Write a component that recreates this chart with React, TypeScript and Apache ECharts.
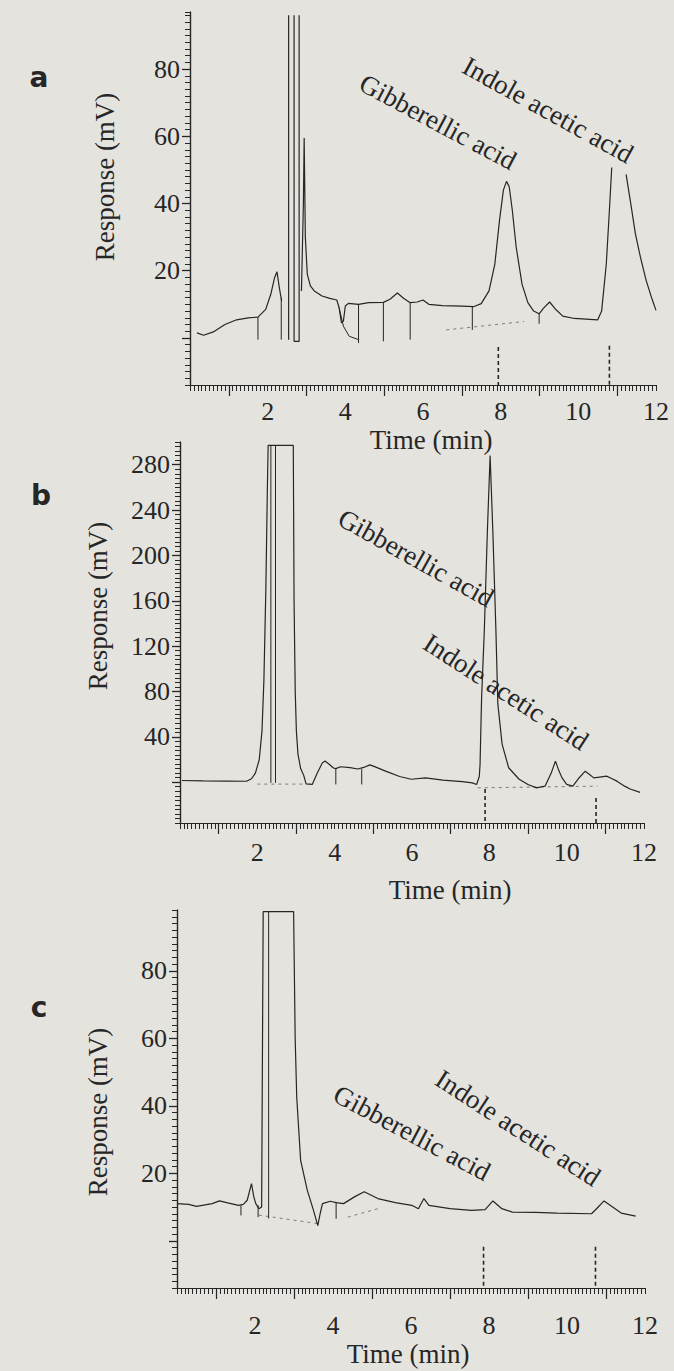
import React, { useEffect, useRef } from "react";
import * as echarts from "echarts";

// ---- tick labels ----
const timeLabels = [2, 4, 6, 8, 10, 12];
const timeMajorTicks = [1, 3, 5, 7, 9, 11];
const yLabelsA = [20, 40, 60, 80];
const yLabelsB = [40, 80, 120, 160, 200, 240, 280];
const yLabelsC = [20, 40, 60, 80];

// ---- panel a (time min, response mV) ----
const traceA = [
  [0.18, 1.5], [0.35, 0.8], [0.6, 1.8], [0.9, 4.0], [1.2, 5.4], [1.5, 6.0], [1.75, 6.2],
  [1.95, 8.5], [2.08, 13], [2.18, 18], [2.24, 19.7], [2.3, 15], [2.36, 11], [2.4, null],
  [2.54, -0.5], [2.54, 96], [2.6, null], [2.68, 96], [2.68, -1], [2.81, -1], [2.81, 96], [2.84, null],
  [2.87, 14], [2.92, 40], [2.94, 59.5], [2.97, 30], [3.02, 19], [3.1, 15.5], [3.2, 14], [3.4, 12.5],
  [3.6, 11.8], [3.78, 11.3], [3.84, 9], [3.9, 4.5], [3.95, 5], [4.0, 9.5], [4.08, 10.3], [4.34, 10],
  [4.6, 10.5], [4.98, 10.6], [5.15, 11.5], [5.34, 13.4], [5.5, 11.8], [5.67, 10.5], [5.85, 10.7],
  [6.0, 11.3], [6.15, 10.0], [6.5, 9.6], [7.0, 9.5], [7.3, 9.3], [7.5, 10.2], [7.7, 14], [7.85, 22],
  [7.97, 35], [8.07, 44], [8.15, 46.6], [8.22, 45], [8.3, 38], [8.4, 27], [8.55, 16], [8.7, 10.5],
  [8.85, 8], [8.99, 7.2], [9.1, 8.8], [9.26, 10.7], [9.4, 8.7], [9.6, 6.5], [9.9, 5.8], [10.2, 5.6],
  [10.5, 5.4], [10.6, 8], [10.72, 22], [10.8, 38], [10.86, 50.7], [11.0, null], [11.23, 48.7],
  [11.35, 40], [11.47, 31], [11.6, 24], [11.75, 17], [11.9, 11.5], [12.0, 8.2],
];
const dropA = [
  [1.75, 6.2], [1.75, -0.5], [1.75, null], [2.35, 12], [2.35, -0.5], [2.35, null],
  [4.34, 10], [4.34, -1.5], [4.34, null], [4.98, 10.6], [4.98, -1], [4.98, null],
  [5.67, 10.5], [5.67, -0.5], [5.67, null], [7.27, 9.3], [7.27, 2.4], [7.27, null],
  [8.99, 7.2], [8.99, 4.2],
];
const baseA = [[3.84, 9], [3.95, 3.5], [4.1, 0.5], [4.34, -0.5]];
const dashBaseA = [[6.6, 2.4], [8.6, 4.9]];
const markersA = [[7.94, -2.7], [7.94, -14], [7.94, null], [10.8, -2.3], [10.8, -14]];

// ---- panel b ----
const traceB = [
  [0.05, 1.5], [0.6, 1.2], [1.2, 1.0], [1.72, 0.8], [1.85, 3], [1.95, 8], [2.05, 20], [2.12, 45],
  [2.17, 90], [2.22, 170], [2.26, 260], [2.28, 297], [2.93, 297], [2.95, 160], [2.98, 80],
  [3.01, 45], [3.05, 25], [3.12, 12], [3.2, 6], [3.26, -1.5], [3.42, -2], [3.55, 8], [3.68, 17],
  [3.75, 18.6], [3.85, 16], [3.97, 12.5], [4.03, 12], [4.15, 13.6], [4.4, 12.8], [4.6, 11.6],
  [4.75, 13], [4.91, 15.3], [5.05, 13.5], [5.3, 10], [5.68, 5], [5.98, 2.6], [6.35, 3.8],
  [6.8, 1.8], [7.3, 0.5], [7.56, -0.6], [7.67, -2], [7.74, 5], [7.76, 15.6], [7.8, 74.6],
  [7.87, 133.6], [7.95, 222], [8.02, 288], [8.09, 222], [8.17, 134], [8.22, 69], [8.33, 33.6],
  [8.5, 12.7], [8.77, 2.6], [9.0, -2], [9.22, -5], [9.44, -3.5], [9.6, 8], [9.71, 18.6], [9.8, 10],
  [9.88, 3.8], [10.0, -2], [10.16, -3.5], [10.3, 3], [10.48, 9.7], [10.6, 6.5], [10.7, 3.8],
  [10.85, 4.5], [11.03, 5.3], [11.15, 3.5], [11.3, 0.9], [11.5, -3.5], [11.64, -6], [11.9, -9],
];
const dropB = [
  [2.35, 297], [2.35, -0.6], [2.35, null], [2.47, 297], [2.47, -0.6], [2.47, null],
  [4.03, 12], [4.03, -2], [4.03, null], [4.7, 12], [4.7, -2],
];
const dashBaseB = [[2.0, -1.7], [3.2, -1.7], [3.2, null], [7.7, -5], [10.8, -3.5]];
const markersB = [[7.89, -6], [7.89, -36], [7.89, null], [10.76, -14], [10.76, -36]];

// ---- panel c ----
const traceC = [
  [0.0, 11], [0.3, 10.8], [0.5, 10.2], [0.65, 10.5], [0.9, 11], [1.09, 11.8], [1.3, 11.2],
  [1.58, 10.5], [1.7, 10.8], [1.8, 12], [1.91, 16.9], [1.97, 13], [2.02, 11], [2.1, 9.5],
  [2.17, 10], [2.21, 97.5], [2.99, 97.5], [3.03, 60], [3.07, 42.5], [3.17, 23.8], [3.34, 15],
  [3.5, 9], [3.61, 4.5], [3.67, 8], [3.73, 11], [3.93, 11.7], [4.08, 11.3], [4.27, 11],
  [4.55, 13], [4.8, 14.5], [5.15, 12.5], [5.6, 11.3], [6.02, 10.5], [6.19, 9.5], [6.33, 12.5],
  [6.46, 10.5], [7.0, 9.5], [7.55, 9], [7.9, 9.2], [8.1, 11.8], [8.33, 9.5], [8.6, 8.5],
  [9.2, 8.4], [9.74, 8.2], [10.63, 8], [10.8, 10], [10.95, 11.8], [11.17, 10], [11.39, 8.2],
  [11.76, 7.3],
];
const dropC = [
  [1.64, 10.5], [1.64, 7.5], [1.64, null], [2.08, 10.5], [2.08, 7], [2.08, null],
  [2.35, 97.5], [2.35, 6.6], [2.35, null], [4.08, 11.5], [4.08, 6.5],
];
const dashBaseC = [[2.1, 7.6], [3.6, 5.1], [3.6, null], [4.38, 7], [5.15, 9.5]];
const markersC = [[7.86, -1.8], [7.86, -14], [7.86, null], [10.73, -1.8], [10.73, -14]];

const INK = "#262626";
const BG = "#e5e3de";
const SERIF = "'Liberation Serif', 'DejaVu Serif', serif";

const panels = [
  {
    grid: { left: 190, top: 12, width: 466, height: 373 },
    yMin: -14, yMax: 97, yMinor: 2, yLabels: yLabelsA, xMargin: 13,
    trace: traceA, drop: dropA, base: baseA, dashBase: dashBaseA, markers: markersA,
  },
  {
    grid: { left: 180, top: 442, width: 464, height: 381 },
    yMin: -36, yMax: 300, yMinor: 4, yLabels: yLabelsB, xMargin: 16,
    trace: traceB, drop: dropB, base: [], dashBase: dashBaseB, markers: markersB,
  },
  {
    grid: { left: 177, top: 910, width: 468, height: 378 },
    yMin: -14, yMax: 98, yMinor: 2, yLabels: yLabelsC, xMargin: 24,
    trace: traceC, drop: dropC, base: [], dashBase: dashBaseC, markers: markersC,
  },
];

function lineSeries(data: any[], xi: number, width: number, type: any = "solid", opacity = 1) {
  return {
    type: "line",
    xAxisIndex: xi,
    yAxisIndex: xi,
    data,
    showSymbol: false,
    symbol: "none",
    silent: true,
    connectNulls: false,
    lineStyle: { color: INK, width, type, opacity },
  };
}

function txt(text: string, x: number, y: number, size: number, rotDeg = 0, family = SERIF, weight = "normal") {
  return {
    type: "text",
    x,
    y,
    rotation: (rotDeg * Math.PI) / 180,
    silent: true,
    style: {
      text,
      fill: INK,
      fontSize: size,
      fontFamily: family,
      fontWeight: weight,
      align: "center",
      verticalAlign: "middle",
    },
  };
}

function minorLabel() {
  return { show: true, formatter: () => "\u00a0", fontSize: 2, color: "rgba(0,0,0,0)", margin: 0 };
}

export default function App() {
  const ref = useRef<HTMLDivElement>(null);
  useEffect(() => {
    if (!ref.current) return;
    const chart = echarts.init(ref.current, null, { renderer: "svg" });
    const grid: any[] = [];
    const xAxis: any[] = [];
    const yAxis: any[] = [];
    const series: any[] = [];
    const axisLine = () => ({ show: true, onZero: false, lineStyle: { color: INK, width: 1.2 } });
    panels.forEach((p, i) => {
      grid.push(p.grid);
      xAxis.push({
        type: "value", gridIndex: i, min: 0, max: 12, position: "bottom",
        axisLine: axisLine(),
        axisTick: { show: true, customValues: timeMajorTicks, length: 11, lineStyle: { color: INK, width: 1.2 } },
        axisLabel: { customValues: timeLabels, margin: p.xMargin, fontSize: 26, fontFamily: SERIF, color: INK },
        splitLine: { show: false },
      });
      xAxis.push({
        type: "value", gridIndex: i, min: 0, max: 12, interval: 0.1, position: "bottom",
        axisLine: axisLine(),
        axisTick: { show: true, length: 6, lineStyle: { color: INK, width: 1 } },
        axisLabel: minorLabel(),
        splitLine: { show: false },
      });
      yAxis.push({
        type: "value", gridIndex: i, min: p.yMin, max: p.yMax, position: "left",
        axisLine: axisLine(),
        axisTick: { show: true, customValues: [0, ...p.yLabels], length: 8, lineStyle: { color: INK, width: 1.3 } },
        axisLabel: { customValues: p.yLabels, margin: 10, fontSize: 26, fontFamily: SERIF, color: INK },
        splitLine: { show: false },
      });
      yAxis.push({
        type: "value", gridIndex: i, min: p.yMin, max: p.yMax, interval: p.yMinor, position: "left",
        axisLine: axisLine(),
        axisTick: { show: true, length: 5, lineStyle: { color: INK, width: 1 } },
        axisLabel: minorLabel(),
        splitLine: { show: false },
      });
      const xi = i * 2;
      series.push(lineSeries(p.trace, xi, 1.2));
      series.push(lineSeries(p.drop, xi, 1.0));
      if (p.base.length) series.push(lineSeries(p.base, xi, 1.0));
      series.push(lineSeries(p.dashBase, xi, 1.0, [3, 4], 0.55));
      series.push(lineSeries(p.markers, xi, 1.6, [4, 3]));
    });

    const graphic = [
      txt("a", 39, 77, 28, 0, "'DejaVu Sans', sans-serif", "bold"),
      txt("b", 41, 495, 28, 0, "'DejaVu Sans', sans-serif", "bold"),
      txt("c", 39, 1007, 28, 0, "'DejaVu Sans', sans-serif", "bold"),
      txt("Response (mV)", 105, 177, 27, 90),
      txt("Response (mV)", 98, 606, 27, 90),
      txt("Response (mV)", 98, 1112, 27, 90),
      txt("Time (min)", 431, 440, 27),
      txt("Time (min)", 450, 890, 27),
      txt("Time (min)", 408, 1354, 27),
      txt("Gibberellic acid", 438, 122, 27, -28),
      txt("Indole acetic acid", 548, 110, 27, -29),
      txt("Gibberellic acid", 416, 558, 27, -29),
      txt("Indole acetic acid", 506, 692, 27, -33),
      txt("Gibberellic acid", 412, 1133, 27, -28),
      txt("Indole acetic acid", 518, 1128, 27, -33),
    ];

    chart.setOption({
      animation: false,
      backgroundColor: BG,
      grid,
      xAxis,
      yAxis,
      series,
      graphic,
    });
    return () => chart.dispose();
  }, []);
  return (
    <div
      ref={ref}
      style={{ position: "absolute", left: 0, top: 0, width: 674, height: 1371 }}
    />
  );
}
